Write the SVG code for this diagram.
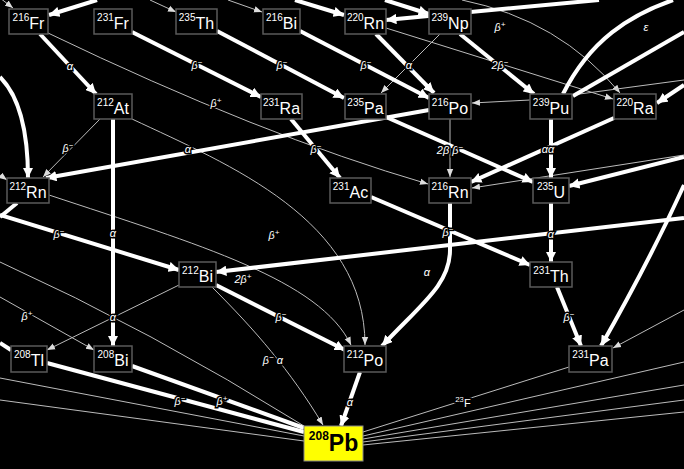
<svg xmlns="http://www.w3.org/2000/svg" width="684" height="469" viewBox="0 0 684 469">
<style>
.k{fill:none;stroke:#fff;stroke-width:4}
.t{fill:none;stroke:#bbb;stroke-width:1}
.ka{marker-end:url(#ak)}
.ta{marker-end:url(#at)}
.box{fill:#000;stroke:#5a5a5a;stroke-width:1.5}
.nt{fill:#fff;font-family:"Liberation Sans",Arial,sans-serif;text-anchor:middle}
.s{font-size:10px}
.e{font-size:16px}
.lb{fill:#fff;font-family:"Liberation Sans",Arial,sans-serif;font-style:italic;font-size:11px;text-anchor:middle;stroke:#000;stroke-width:3;paint-order:stroke}
.sp{font-size:8px}
</style>
<defs>
<marker id="ak" viewBox="0 0 10 10" refX="10" refY="5" markerWidth="2.6" markerHeight="2.6" orient="auto"><path d="M0,0 L10,5 L0,10 z" fill="#fff"/></marker>
<marker id="at" viewBox="0 0 10 10" refX="10" refY="5" markerWidth="8" markerHeight="8" markerUnits="userSpaceOnUse" orient="auto"><path d="M0,1 L10,5 L0,9 z" fill="#ddd"/></marker>
</defs>
<rect width="684" height="469" fill="#000"/>
<g id="connectors">
<!-- thin -->
<path class="t ta" d="M0,-2 L13,8"/>
<path class="t ta" d="M150,0 L176,12"/>
<path class="t ta" d="M228,0 L262,12"/>
<path class="t ta" d="M48,33 Q260,135 428,184"/>
<path class="t ta" d="M440,34 L381,93"/>
<path class="t ta" d="M386,28 L613,99"/>
<path class="t ta" d="M462,0 Q560,20 620,93"/>
<path class="t ta" d="M530,100 L472,103"/>
<path class="t" d="M684,80 L572,95"/>
<path class="t ta" d="M684,155 L472,188"/>
<path class="t ta" d="M450,119 L450,177"/>
<path class="t ta" d="M100,119 L43,177"/>
<path class="t ta" d="M132,119 C230,165 365,220 365,345"/>
<path class="t ta" d="M49,195 C200,245 320,280 351,345"/>
<path class="t ta" d="M212,287 C255,330 290,370 323,425"/>
<path class="t ta" d="M179,285 L47,350"/>
<path class="t ta" d="M0,297 L94,350"/>
<path class="t ta" d="M0,175 L7,180"/>
<path class="t" d="M0,262 Q150,330 304,426"/>
<path class="t" d="M0,378 L304,436"/>
<path class="t" d="M0,400 L304,441"/>
<path class="t" d="M569,367 L363,432"/>
<path class="t" d="M684,362 L363,436"/>
<path class="t" d="M684,385 L363,439"/>
<path class="t" d="M684,400 L363,442"/>
<path class="t" d="M684,412 L363,445"/>
<path class="t ta" d="M684,310 L613,348"/>
<!-- thick -->
<path class="k ka" d="M97,0 L49,15"/>
<path class="k ka" d="M40,34 L96,94"/>
<path class="k ka" d="M132,32 L261,97"/>
<path class="k ka" d="M217,31 L344,98"/>
<path class="k ka" d="M300,31 L429,98"/>
<path class="k ka" d="M376,34 L434,93"/>
<path class="k ka" d="M295,0 L344,15"/>
<path class="k ka" d="M385,0 L429,14"/>
<path class="k ka" d="M599,0 L386,20"/>
<path class="k ka" d="M460,34 L534,94"/>
<path class="k" d="M563,94 C590,40 630,15 673,0"/>
<path class="k" d="M573,96 L684,32"/>
<path class="k ka" d="M684,85 L657,103"/>
<path class="k ka" d="M614,118 L471,182"/>
<path class="k ka" d="M551,119 L551,178"/>
<path class="k ka" d="M386,117 L533,182"/>
<path class="k ka" d="M684,157 L569,186"/>
<path class="k ka" d="M429,110 L46,178"/>
<path class="k ka" d="M0,77 Q28,105 28,178"/>
<path class="k" d="M17,203 L0,217"/>
<path class="k ka" d="M0,215 L179,270"/>
<path class="k ka" d="M113,119 L113,346"/>
<path class="k ka" d="M291,119 L340,178"/>
<path class="k ka" d="M371,197 L530,265"/>
<path class="k ka" d="M684,218 L216,272"/>
<path class="k ka" d="M450,203 L450,250 C450,285 420,305 382,346"/>
<path class="k ka" d="M551,203 L551,262"/>
<path class="k ka" d="M557,287 L581,346"/>
<path class="k ka" d="M684,185 Q650,260 601,346"/>
<path class="k ka" d="M216,285 L345,350"/>
<path class="k ka" d="M360,372 L341,426"/>
<path class="k" d="M47,363 L304,432"/>
<path class="k" d="M132,366 L304,428"/>
<path class="k" d="M0,343 L11,350"/>
</g>
<g id="labels">
<text class="lb" x="70" y="70">α</text>
<text class="lb" x="197" y="69">β<tspan class="sp" dy="-4">−</tspan></text>
<text class="lb" x="282" y="69">β<tspan class="sp" dy="-4">−</tspan></text>
<text class="lb" x="366" y="69">β<tspan class="sp" dy="-4">−</tspan></text>
<text class="lb" x="409" y="69">α</text>
<text class="lb" x="500" y="69">2β<tspan class="sp" dy="-4">−</tspan></text>
<text class="lb" x="500" y="31">β<tspan class="sp" dy="-4">+</tspan></text>
<text class="lb" x="646" y="31">ε</text>
<text class="lb" x="216" y="107">β<tspan class="sp" dy="-4">+</tspan></text>
<text class="lb" x="68" y="152">β<tspan class="sp" dy="-4">−</tspan></text>
<text class="lb" x="188" y="153">α</text>
<text class="lb" x="316" y="153">β<tspan class="sp" dy="-4">−</tspan></text>
<text class="lb" x="450" y="154">2β β<tspan class="sp" dy="-4">−</tspan></text>
<text class="lb" x="548" y="153">αα</text>
<text class="lb" x="59" y="238">β<tspan class="sp" dy="-4">−</tspan></text>
<text class="lb" x="113" y="237">α</text>
<text class="lb" x="274" y="239">β<tspan class="sp" dy="-4">+</tspan></text>
<text class="lb" x="448" y="236">β<tspan class="sp" dy="-4">−</tspan></text>
<text class="lb" x="551" y="238">α</text>
<text class="lb" x="243" y="283">2β<tspan class="sp" dy="-4">+</tspan></text>
<text class="lb" x="427" y="276">α</text>
<text class="lb" x="27" y="320">β<tspan class="sp" dy="-4">+</tspan></text>
<text class="lb" x="113" y="321">α</text>
<text class="lb" x="281" y="321">β<tspan class="sp" dy="-4">−</tspan></text>
<text class="lb" x="569" y="321">β<tspan class="sp" dy="-4">−</tspan></text>
<text class="lb" x="273" y="364">β<tspan class="sp" dy="-4">−</tspan><tspan dy="4"> α</tspan></text>
<text class="lb" x="180" y="405">β<tspan class="sp" dy="-4">−</tspan></text>
<text class="lb" x="222" y="405">β<tspan class="sp" dy="-4">+</tspan></text>
<text class="lb" x="350" y="406">α</text>
<text class="lb" x="463" y="407" style="font-style:normal"><tspan class="sp" dy="-5">23</tspan><tspan dy="5">F</tspan></text>
</g>
<g id="n216Fr"><rect class="box" x="9" y="9" width="39" height="25"/><text class="nt" x="28.5" y="29"><tspan class="s" dy="-8">216</tspan><tspan class="e" dy="8">Fr</tspan></text></g>
<g id="n231Fr"><rect class="box" x="94" y="9" width="38" height="25"/><text class="nt" x="113" y="29"><tspan class="s" dy="-8">231</tspan><tspan class="e" dy="8">Fr</tspan></text></g>
<g id="n235Th"><rect class="box" x="176" y="9" width="41" height="25"/><text class="nt" x="196.5" y="29"><tspan class="s" dy="-8">235</tspan><tspan class="e" dy="8">Th</tspan></text></g>
<g id="n216Bi"><rect class="box" x="263" y="9" width="37" height="25"/><text class="nt" x="281.5" y="29"><tspan class="s" dy="-8">216</tspan><tspan class="e" dy="8">Bi</tspan></text></g>
<g id="n220Rn"><rect class="box" x="345" y="9" width="41" height="25"/><text class="nt" x="365.5" y="29"><tspan class="s" dy="-8">220</tspan><tspan class="e" dy="8">Rn</tspan></text></g>
<g id="n239Np"><rect class="box" x="429" y="9" width="42" height="25"/><text class="nt" x="450" y="29"><tspan class="s" dy="-8">239</tspan><tspan class="e" dy="8">Np</tspan></text></g>
<g id="n212At"><rect class="box" x="94" y="94" width="38" height="25"/><text class="nt" x="113" y="114"><tspan class="s" dy="-8">212</tspan><tspan class="e" dy="8">At</tspan></text></g>
<g id="n231Ra"><rect class="box" x="261" y="94" width="41" height="25"/><text class="nt" x="281.5" y="114"><tspan class="s" dy="-8">231</tspan><tspan class="e" dy="8">Ra</tspan></text></g>
<g id="n235Pa"><rect class="box" x="345" y="94" width="41" height="25"/><text class="nt" x="365.5" y="114"><tspan class="s" dy="-8">235</tspan><tspan class="e" dy="8">Pa</tspan></text></g>
<g id="n216Po"><rect class="box" x="429" y="94" width="42" height="25"/><text class="nt" x="450" y="114"><tspan class="s" dy="-8">216</tspan><tspan class="e" dy="8">Po</tspan></text></g>
<g id="n239Pu"><rect class="box" x="530" y="94" width="42" height="25"/><text class="nt" x="551" y="114"><tspan class="s" dy="-8">239</tspan><tspan class="e" dy="8">Pu</tspan></text></g>
<g id="n220Ra"><rect class="box" x="614" y="94" width="42" height="25"/><text class="nt" x="635" y="114"><tspan class="s" dy="-8">220</tspan><tspan class="e" dy="8">Ra</tspan></text></g>
<g id="n212Rn"><rect class="box" x="7" y="178" width="42" height="25"/><text class="nt" x="28" y="198"><tspan class="s" dy="-8">212</tspan><tspan class="e" dy="8">Rn</tspan></text></g>
<g id="n231Ac"><rect class="box" x="330" y="178" width="41" height="25"/><text class="nt" x="350.5" y="198"><tspan class="s" dy="-8">231</tspan><tspan class="e" dy="8">Ac</tspan></text></g>
<g id="n216Rn"><rect class="box" x="429" y="178" width="42" height="25"/><text class="nt" x="450" y="198"><tspan class="s" dy="-8">216</tspan><tspan class="e" dy="8">Rn</tspan></text></g>
<g id="n235U"><rect class="box" x="533" y="178" width="36" height="25"/><text class="nt" x="551" y="198"><tspan class="s" dy="-8">235</tspan><tspan class="e" dy="8">U</tspan></text></g>
<g id="n212Bi"><rect class="box" x="179" y="262" width="37" height="25"/><text class="nt" x="197.5" y="282"><tspan class="s" dy="-8">212</tspan><tspan class="e" dy="8">Bi</tspan></text></g>
<g id="n231Th"><rect class="box" x="530" y="262" width="42" height="25"/><text class="nt" x="551" y="282"><tspan class="s" dy="-8">231</tspan><tspan class="e" dy="8">Th</tspan></text></g>
<g id="n208Tl"><rect class="box" x="11" y="346" width="36" height="26"/><text class="nt" x="29" y="366"><tspan class="s" dy="-8">208</tspan><tspan class="e" dy="8">Tl</tspan></text></g>
<g id="n208Bi"><rect class="box" x="94" y="346" width="38" height="26"/><text class="nt" x="113" y="366"><tspan class="s" dy="-8">208</tspan><tspan class="e" dy="8">Bi</tspan></text></g>
<g id="n212Po"><rect class="box" x="344" y="346" width="42" height="26"/><text class="nt" x="365" y="366"><tspan class="s" dy="-8">212</tspan><tspan class="e" dy="8">Po</tspan></text></g>
<g id="n231Pa"><rect class="box" x="569" y="346" width="43" height="26"/><text class="nt" x="590.5" y="366"><tspan class="s" dy="-8">231</tspan><tspan class="e" dy="8">Pa</tspan></text></g>
<g id="n208Pb"><rect x="304" y="426" width="59" height="35" fill="#ffff00" stroke="#888" stroke-width="1"/><text x="333.5" y="451" text-anchor="middle" font-family="Liberation Sans,Arial,sans-serif" font-weight="bold" fill="#000"><tspan font-size="12" dy="-11">208</tspan><tspan font-size="23" dy="11">Pb</tspan></text></g>
</svg>
